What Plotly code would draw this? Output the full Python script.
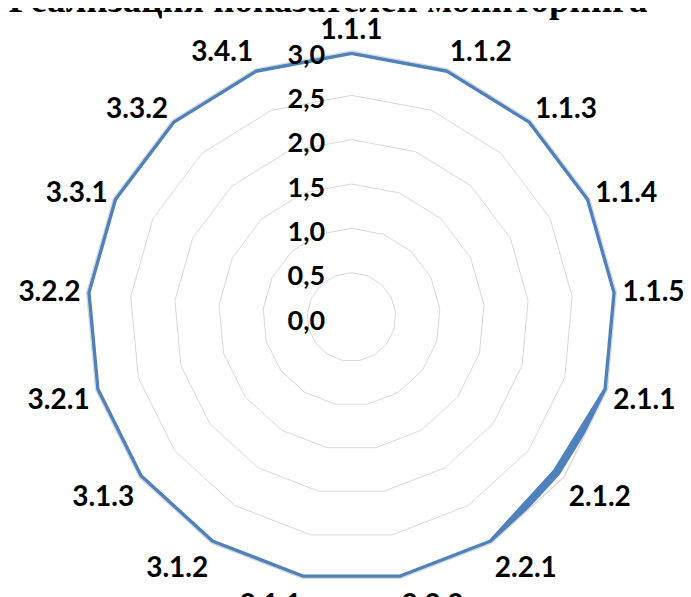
import plotly.graph_objects as go

categories = ["1.1.1", "1.1.2", "1.1.3", "1.1.4", "1.1.5", "2.1.1", "2.1.2", "2.2.1", "2.2.2",
              "3.1.1", "3.1.2", "3.1.3", "3.2.1", "3.2.2", "3.3.1", "3.3.2", "3.4.1"]
values = [3.0, 3.0, 3.0, 3.0, 3.0, 3.0, 2.9, 3.0, 3.0,
          3.0, 3.0, 3.0, 3.0, 3.0, 3.0, 3.0, 3.0]
radial_ticks = [0.0, 0.5, 1.0, 1.5, 2.0, 2.5, 3.0]
title_text = "Реализация показателей мониторинга"

pad = "\u00a0" * 4
radial_labels = [f"{v:.1f}".replace(".", ",") + pad for v in radial_ticks]

domain = dict(x=[77.5 / 691, 609.5 / 691], y=[1 - 575 / 597, 1 - 43 / 597])
label_domain = dict(x=[77.5 / 691, 609.5 / 691], y=[1 - 581 / 597, 1 - 49 / 597])

fig = go.Figure()
fig.add_trace(go.Scatterpolar(
    r=values + values[:1],
    theta=categories + categories[:1],
    mode="lines",
    line=dict(color="#4F81BD", width=8),
    hoverinfo="skip",
    subplot="polar",
))
fig.add_trace(go.Scatterpolar(
    r=radial_ticks,
    theta=[categories[0]] * len(radial_ticks),
    mode="text",
    text=radial_labels,
    textposition="middle left",
    textfont=dict(family="Lato", size=27, color="black", weight="bold"),
    hoverinfo="skip",
    cliponaxis=False,
    subplot="polar2",
))

label_font = dict(family="Lato", size=28, color="black", weight="bold")

fig.update_layout(
    width=691, height=597,
    margin=dict(l=0, r=0, t=0, b=0),
    paper_bgcolor="white",
    plot_bgcolor="white",
    showlegend=False,
    title=dict(text=title_text, x=320 / 691, xanchor="center", y=1.0 - 4 / 597, yanchor="bottom",
               font=dict(family="Liberation Serif", size=37, color="black", weight="bold")),
    polar=dict(
        domain=domain,
        bgcolor="white",
        gridshape="linear",
        angularaxis=dict(
            direction="clockwise", rotation=90,
            showgrid=False, ticks="",
            showline=True, linecolor="#D9D9D9", linewidth=1.3,
            tickfont=label_font,
        ),
        radialaxis=dict(
            range=[0, 3], tickvals=radial_ticks,
            angle=90, showticklabels=False,
            showline=False, ticks="",
            gridcolor="#D9D9D9", gridwidth=1.3,
        ),
    ),
    polar2=dict(
        domain=label_domain,
        bgcolor="rgba(0,0,0,0)",
        gridshape="circular",
        angularaxis=dict(
            direction="clockwise", rotation=90, type="category",
            categoryarray=categories, categoryorder="array",
            showgrid=False, ticks="", showline=False, showticklabels=False,
        ),
        radialaxis=dict(
            range=[0, 3], showgrid=False, showline=False, ticks="",
            showticklabels=False,
        ),
    ),
)

fig.write_html("out.html")
